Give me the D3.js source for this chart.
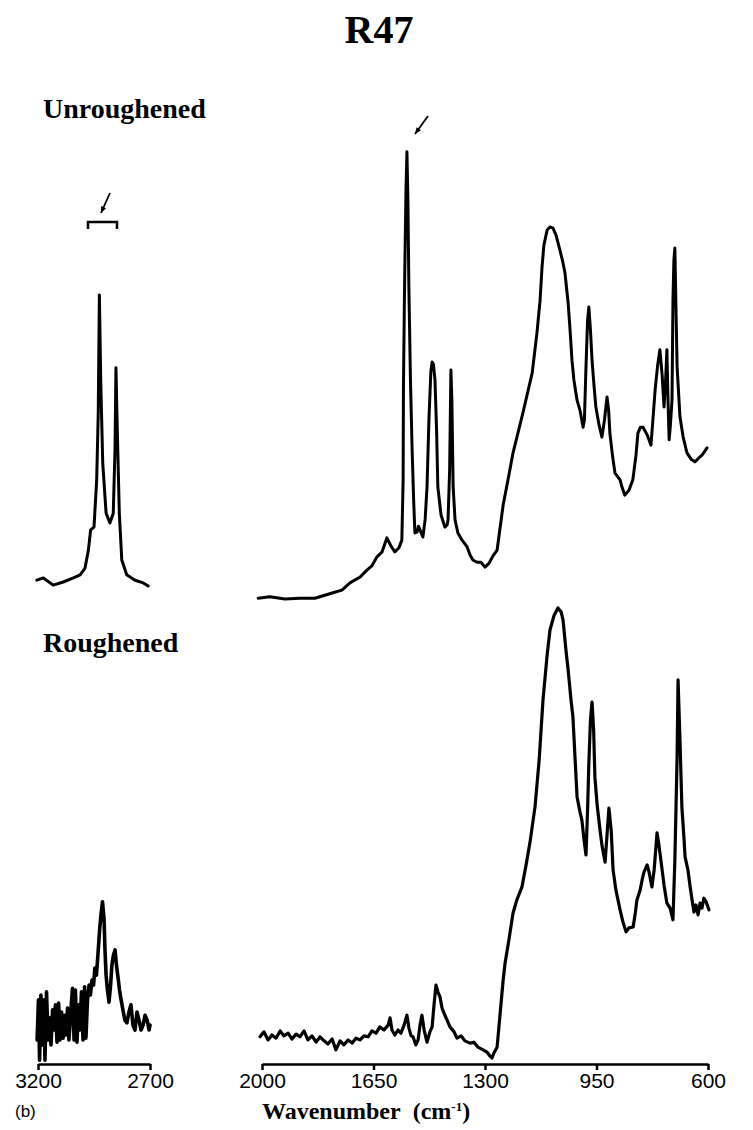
<!DOCTYPE html>
<html>
<head>
<meta charset="utf-8">
<script src="https://cdn.jsdelivr.net/npm/d3@7"></script>
<style>
  body { margin: 0; background: #fff; }
  svg { display: block; }
</style>
</head>
<body>
<script>
const width = 753, height = 1130;

// tick labels
const ticksCH = [3200, 2700];
const ticksFP = [2000, 1650, 1300, 950, 600];

// unroughened, C-H region
const uCHwave = [3205, 3176, 3132, 3087, 3042, 3012, 2990, 2975, 2965, 2950, 2938, 2931, 2926, 2920, 2911, 2896, 2879, 2864, 2856, 2852, 2846, 2837, 2826, 2804, 2767, 2730, 2708];
const uCHint = [4.4, 4.9, 3.3, 4.0, 4.9, 5.6, 7.1, 11.1, 15.6, 16.2, 26.7, 41.6, 67.8, 48.9, 30.4, 19.3, 17.1, 19.3, 34, 51.6, 37.8, 19.3, 8.9, 5.6, 4.4, 3.8, 3.1];

// unroughened, fingerprint region
const uFPwave = [2012, 1975, 1928, 1881, 1834, 1777, 1749, 1724, 1692, 1670, 1655, 1639, 1623, 1608, 1595, 1583, 1570, 1561,
  1557, 1556, 1553, 1551, 1548, 1545, 1542, 1539, 1534, 1529, 1524, 1520, 1513, 1509, 1504, 1499, 1495, 1488, 1482, 1476,
  1470, 1466, 1462, 1457, 1452, 1448, 1438, 1426, 1419, 1416, 1411, 1407, 1404, 1400, 1394, 1385, 1372, 1356, 1347, 1338,
  1325, 1313, 1300, 1287, 1275, 1262, 1243, 1222, 1212, 1181, 1152, 1137, 1127, 1121, 1115, 1105, 1096, 1087, 1077, 1065,
  1055, 1049, 1039, 1033, 1027, 1021, 1011, 1002, 992, 988, 983, 978, 974, 969, 964, 958, 952, 942, 933, 925, 917, 912,
  908, 900, 892, 876, 870, 861, 848, 836, 826, 820, 812, 804, 791, 779, 773, 766, 758, 751, 744, 738, 733, 729, 726, 722,
  718, 713, 710, 707, 704, 701, 697, 688, 678, 666, 653, 641, 628, 619, 610, 603];
const uFPint = [0.4, 0.7, 0.2, 0.4, 0.4, 1.6, 2.2, 3.8, 5.1, 6.7, 7.6, 9.6, 10.7, 13.8, 12, 10.7, 11.6, 13.3,
  26.7, 47.3, 66.7, 77.1, 91.1, 99.6, 88.9, 69.6, 48.9, 34, 22.2, 14.9, 15.1, 16.4, 15.6, 14.7, 14, 17.8, 25.1, 40,
  50.7, 52.9, 52.4, 48.9, 37.8, 25.1, 18.9, 16.2, 16.7, 17.8, 28.9, 51.1, 44.4, 25.1, 17.8, 14.9, 13.3, 11.8, 10, 8.9,
  8.4, 8.4, 7.3, 8.2, 9.8, 11.1, 21.1, 28.9, 32.7, 41.6, 50.4, 59.3, 66.7, 74, 78.9, 82.2, 82.9, 82.7, 81.1, 77.8,
  74.9, 72.7, 66, 60, 53.3, 48.9, 44.4, 42.2, 38.4, 40, 51.8, 62.2, 65.1, 60, 53.3, 47.8, 42.9, 38.9, 36.2, 40, 45.1, 42.2,
  37.1, 32.2, 28.2, 26.7, 25.1, 23.3, 24.4, 26.7, 32.2, 37.1, 38.4, 38.4, 36.7, 34.4, 40, 46.7, 52.2, 55.6, 50, 42.9, 48.9, 55.6, 45.6, 35.6,
  38.9, 44.4, 66.7, 75.6, 78.2, 66.7, 51.8, 40.7, 36.2, 32.7, 31.3, 30.7, 31.6, 32.2, 33.1, 33.8];

// roughened, C-H region
const rCHwave = [3204, 3198, 3193, 3187, 3180, 3173, 3169, 3162, 3155, 3149, 3142, 3135, 3129, 3122, 3115, 3108, 3102, 3095,
  3088, 3082, 3075, 3068, 3062, 3053, 3046, 3039, 3033, 3026, 3019, 3013, 3006, 2999, 2992, 2986, 2979, 2972, 2966, 2959,
  2952, 2946, 2939, 2932, 2925, 2919, 2912, 2905, 2901, 2896, 2890, 2883, 2876, 2870, 2863, 2856, 2850, 2843, 2836, 2829,
  2821, 2812, 2803, 2794, 2785, 2776, 2767, 2758, 2749, 2740, 2731, 2722, 2713, 2704, 2700];
const rCHint = [4.9, 13.8, 0.4, 14.9, 3.8, 13.8, 0.4, 15.6, 4.9, 9.8, 3.8, 11.6, 7.1, 12.7, 4.4, 13.1, 4.9, 11.1,
  5.3, 10.4, 6, 12, 4.9, 11.6, 16.4, 4.9, 16, 4.4, 12.7, 7.1, 15.6, 4.9, 16.7, 5.3, 13.8, 17.1, 14.9, 18.2,
  17.1, 20.9, 19.3, 24.2, 29.3, 32.7, 35.6, 31.6, 24.9, 19.3, 16, 13.3, 17.1, 21.6, 23.8, 24.9, 21.6, 18.9, 16, 13.8,
  11.6, 9.3, 8.7, 11.1, 12.7, 8.2, 7.1, 11.1, 9.3, 7.1, 8.2, 10.4, 9.3, 7.1, 8.2];

// roughened, fingerprint region
const rFPwave = [2006, 1994, 1981, 1969, 1956, 1943, 1931, 1918, 1906, 1893, 1881, 1868, 1856, 1843, 1830, 1818, 1805, 1793,
  1780, 1768, 1755, 1743, 1730, 1717, 1705, 1692, 1680, 1667, 1655, 1642, 1630, 1617, 1604, 1598, 1592, 1583, 1573, 1564,
  1554, 1545, 1539, 1532, 1526, 1517, 1510, 1504, 1498, 1491, 1482, 1473, 1466, 1460, 1454, 1448, 1441, 1435, 1429, 1419,
  1410, 1397, 1388, 1375, 1363, 1347, 1335, 1322, 1306, 1294, 1284, 1278, 1272, 1262, 1253, 1243, 1237, 1225, 1212, 1200,
  1184, 1171, 1159, 1143, 1130, 1118, 1105, 1096, 1083, 1071, 1061, 1055, 1046, 1039, 1030, 1024, 1017, 1011, 1002, 996,
  989, 983, 978, 974, 969, 964, 959, 955, 948, 939, 933, 923, 917, 911, 904, 898, 889, 876, 867, 857, 848, 835, 829, 823,
  813, 807, 801, 791, 785, 776, 769, 760, 754, 744, 738, 729, 719, 710, 704, 697, 694, 688, 682, 675, 672, 663, 656, 650,
  644, 638, 631, 625, 619, 613, 606, 597];
const rFPint = [5.6, 6.7, 4.9, 6, 5.3, 6.9, 5.8, 6.4, 5.1, 6.2, 5.6, 6.9, 4.9, 5.8, 4.4, 5.6, 4.7, 4,
  5.1, 2.7, 4.7, 3.8, 4.9, 4.2, 5.3, 4.9, 5.8, 5.6, 6.9, 6.4, 7.8, 7.1, 8.2, 9.8, 7.1, 6, 7.1, 6.4,
  8.2, 10.4, 7.6, 5.8, 5.6, 3.8, 4.9, 8.2, 10.4, 7.1, 4.4, 6.7, 7.8, 12.7, 17.1, 15.6, 14.4, 12, 10.9, 9.3,
  7.8, 6.7, 5.3, 5.8, 4.7, 4.2, 4.4, 3.3, 2.7, 2.2, 1.3, 0.9, 2, 3.3, 10.4, 18.2, 22, 27.1, 33.1, 36,
  38.9, 43.8, 48.7, 56.7, 67.1, 80.4, 90.4, 96, 99.3, 100.9, 100, 98.2, 91.6, 87.1, 80.4, 76.7, 67.1, 58.9, 55.6, 53.8,
  49.3, 46, 56, 66.4, 76, 80, 73.8, 63.3, 57.1, 51.6, 48.2, 44.4, 50.4, 56.4, 51.6, 42.7, 38.2, 33.8, 31.1, 28.9, 29.8, 30,
  32.7, 36, 38.2, 40.4, 42.2, 43.8, 42.2, 38.9, 42.7, 50.9, 48.2, 42.7, 39.3, 35.3, 34.2, 31.6, 44.9, 67.8, 84.9, 71.6,
  56.7, 49.3, 45.6, 42.7, 38.9, 36, 33.3, 34.9, 32.7, 35.3, 34.2, 36.4, 35.6, 33.8];

const svg = d3.select("body").append("svg")
  .attr("width", width)
  .attr("height", height);

const xCH = d3.scaleLinear().domain([3200, 2700]).range([38, 150]);
const xFP = d3.scaleLinear().domain([2000, 600]).range([262, 708]);
const yTop = d3.scaleLinear().domain([0, 100]).range([600, 150]);
const yBot = d3.scaleLinear().domain([0, 100]).range([1062, 612]);

function spectrum(x, y, waves, ints, sw) {
  const pts = waves.map((w, i) => [w, ints[i]]);
  svg.append("path")
    .datum(pts)
    .attr("fill", "none")
    .attr("stroke", "#000")
    .attr("stroke-width", sw)
    .attr("stroke-linejoin", "round")
    .attr("stroke-linecap", "round")
    .attr("d", d3.line().x(d => x(d[0])).y(d => y(d[1])));
}

spectrum(xCH, yTop, uCHwave, uCHint, 3);
spectrum(xFP, yTop, uFPwave, uFPint, 3);
spectrum(xCH, yBot, rCHwave, rCHint, 3.6);
spectrum(xFP, yBot, rFPwave, rFPint, 3.2);

// axes
function axis(x, vals) {
  const g = svg.append("g")
    .attr("transform", "translate(0,1064)")
    .call(d3.axisBottom(x).tickValues(vals).tickSize(6).tickSizeOuter(0).tickPadding(3).tickFormat(d3.format("d")));
  g.select(".domain").attr("stroke-width", 2.5);
  g.selectAll(".tick line").attr("stroke-width", 2.5);
  g.selectAll("text")
    .attr("font-family", "Liberation Sans, Arial, sans-serif")
    .attr("font-size", 21)
    .attr("fill", "#000");
}
axis(xCH, ticksCH);
axis(xFP, ticksFP);

// text
const serif = "Liberation Serif, Times New Roman, serif";
svg.append("text").attr("x", 379).attr("y", 43).attr("text-anchor", "middle")
  .attr("font-family", serif).attr("font-weight", "bold").attr("font-size", 40).text("R47");
svg.append("text").attr("x", 43).attr("y", 118)
  .attr("font-family", serif).attr("font-weight", "bold").attr("font-size", 28).text("Unroughened");
svg.append("text").attr("x", 43).attr("y", 652)
  .attr("font-family", serif).attr("font-weight", "bold").attr("font-size", 28).text("Roughened");
svg.append("text").attr("x", 15).attr("y", 1117)
  .attr("font-family", "Liberation Sans, Arial, sans-serif").attr("font-size", 17).text("(b)");

const xl = svg.append("text").attr("x", 262).attr("y", 1119)
  .attr("font-family", serif).attr("font-weight", "bold").attr("font-size", 24);
xl.append("tspan").text("Wavenumber\u00a0\u00a0(cm");
xl.append("tspan").attr("dy", -8).attr("font-size", 13).text("-1");
xl.append("tspan").attr("dy", 8).text(")");

// bracket over the C-H doublet
svg.append("path")
  .attr("d", "M88,229 L88,222 L117,222 L117,229")
  .attr("fill", "none").attr("stroke", "#000").attr("stroke-width", 2.5);

// arrows
function arrow(x1, y1, x2, y2) {
  const a = Math.atan2(y2 - y1, x2 - x1), L = 7, s = 0.4;
  svg.append("line").attr("x1", x1).attr("y1", y1).attr("x2", x2).attr("y2", y2)
    .attr("stroke", "#000").attr("stroke-width", 1.8);
  svg.append("path")
    .attr("d", `M${x2},${y2} L${x2 - L * Math.cos(a - s)},${y2 - L * Math.sin(a - s)} L${x2 - L * Math.cos(a + s)},${y2 - L * Math.sin(a + s)} Z`)
    .attr("fill", "#000");
}
arrow(110, 193, 101, 213);
arrow(428, 116, 415, 134);
</script>
</body>
</html>
